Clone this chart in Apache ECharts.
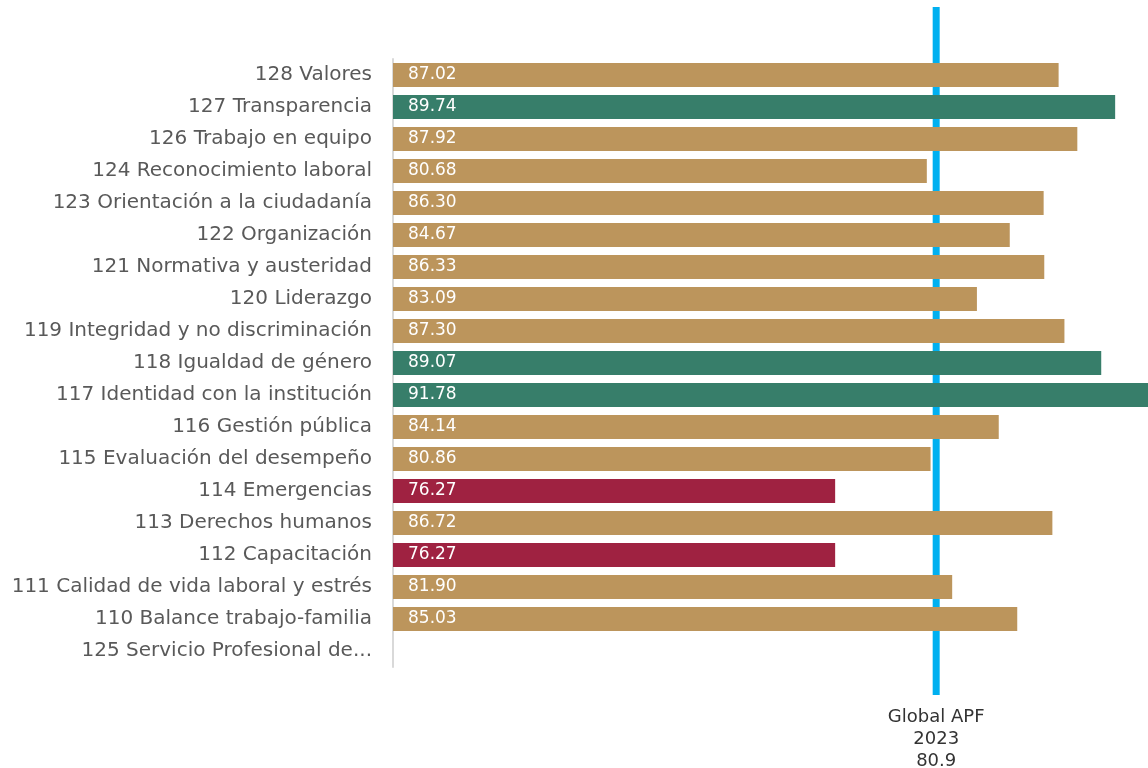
<!DOCTYPE html>
<html>
<head>
<meta charset="utf-8">
<script src="https://cdn.jsdelivr.net/npm/echarts@6/dist/echarts.min.js"></script>
<style>
  html, body { margin: 0; padding: 0; background: #fff; }
  #chart { width: 1148px; height: 768px; }
</style>
</head>
<body>
<div id="chart"></div>
<script>
// factores, de arriba hacia abajo
const categories = [
  "128 Valores",
  "127 Transparencia",
  "126 Trabajo en equipo",
  "124 Reconocimiento laboral",
  "123 Orientación a la ciudadanía",
  "122 Organización",
  "121 Normativa y austeridad",
  "120 Liderazgo",
  "119 Integridad y no discriminación",
  "118 Igualdad de género",
  "117 Identidad con la institución",
  "116 Gestión pública",
  "115 Evaluación del desempeño",
  "114 Emergencias",
  "113 Derechos humanos",
  "112 Capacitación",
  "111 Calidad de vida laboral y estrés",
  "110 Balance trabajo-familia",
  "125 Servicio Profesional de..."
];
const values = [87.02, 89.74, 87.92, 80.68, 86.30, 84.67, 86.33, 83.09, 87.30, 89.07,
  91.78, 84.14, 80.86, 76.27, 86.72, 76.27, 81.90, 85.03, null];
// nivel de cada factor: alto / medio / bajo
const levels = ["m", "a", "m", "m", "m", "m", "m", "m", "m", "a",
  "a", "m", "m", "b", "m", "b", "m", "m", "m"];
const globalAPF = 80.9;

const colors = { a: "#377e6a", m: "#bc955c", b: "#9f2241" };
const font = "'DejaVu Sans', sans-serif";

const barData = values.map((v, i) => ({
  value: v,
  itemStyle: { color: colors[levels[i]] }
}));

const option = {
  animation: false,
  grid: [
    { left: 393, right: 0, top: 59, height: 608 },
    { left: 393, right: 0, top: 7, height: 688 }
  ],
  xAxis: [
    { gridIndex: 0, type: "value", min: 55, max: 91.32, show: false },
    { gridIndex: 1, type: "value", min: 55, max: 91, show: false }
  ],
  yAxis: [
    {
      gridIndex: 0,
      type: "category",
      inverse: true,
      data: categories,
      axisLine: { show: true, lineStyle: { color: "#d9d9d9", width: 2 } },
      axisTick: { show: false },
      axisLabel: { color: "#595959", fontSize: 20, fontFamily: font, margin: 21 }
    },
    { gridIndex: 1, type: "value", min: 0, max: 1, show: false }
  ],
  series: [
    {
      type: "bar",
      xAxisIndex: 0,
      yAxisIndex: 0,
      data: barData,
      barWidth: 24,
      label: {
        show: true,
        position: "insideLeft",
        distance: 15,
        color: "#fff",
        fontSize: 17,
        fontFamily: font,
        formatter: p => p.value.toFixed(2)
      }
    },
    {
      type: "line",
      xAxisIndex: 1,
      yAxisIndex: 1,
      data: [[globalAPF, 1], [globalAPF, 0]],
      symbol: "none",
      lineStyle: { color: "#00b0f0", width: 7 },
      z: 1,
      markPoint: {
        symbol: "circle",
        symbolSize: 0,
        data: [{ coord: [globalAPF, 0] }],
        label: {
          show: true,
          position: "bottom",
          distance: 11,
          color: "#333",
          fontSize: 18,
          lineHeight: 22,
          fontFamily: font,
          formatter: "Global APF\n2023\n" + globalAPF
        }
      }
    }
  ]
};

const chart = echarts.init(document.getElementById("chart"));
chart.setOption(option);
</script>
</body>
</html>
